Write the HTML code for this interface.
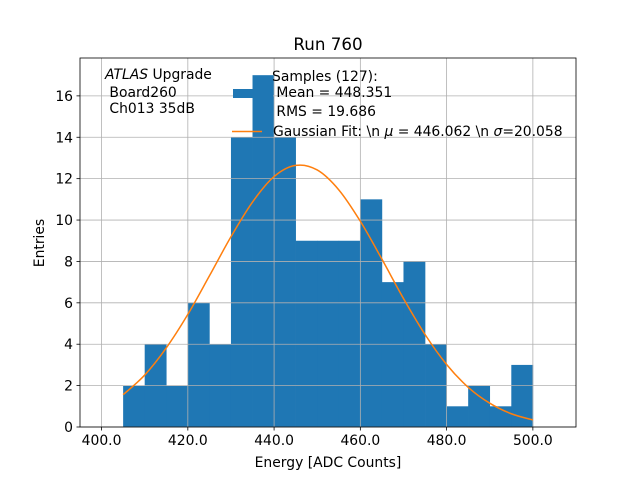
<!DOCTYPE html>
<html><head><meta charset="utf-8"><style>
body{margin:0;background:#fff}
svg text{font-family:"DejaVu Sans","Liberation Sans",sans-serif;fill:#000}
</style></head><body>
<svg id="chart" width="640" height="480" xmlns="http://www.w3.org/2000/svg">
<rect width="640" height="480" fill="#fff"/>
<g id="bars"></g><g id="grid"></g><g id="fit"></g><g id="axes"></g>
<text x="328" y="50" font-size="16.7" text-anchor="middle">Run 760</text>
<text x="328" y="467" font-size="13.9" text-anchor="middle">Energy [ADC Counts]</text>
<text transform="translate(44,243) rotate(-90)" font-size="13.9" text-anchor="middle">Entries</text>
<g font-size="13.9">
<text x="105" y="79"><tspan font-style="italic">ATLAS</tspan> Upgrade</text>
<text x="105" y="97" xml:space="preserve"> Board260</text>
<text x="105" y="113" xml:space="preserve"> Ch013 35dB</text>
</g>
<g font-size="13.9">
<rect x="233" y="89" width="40" height="9" fill="#1f77b4"/>
<text x="272" y="81">Samples (127):</text>
<text x="272" y="97" xml:space="preserve"> Mean = 448.351</text>
<text x="272" y="116" xml:space="preserve"> RMS = 19.686</text>
<line x1="232" y1="131.5" x2="262" y2="131.5" stroke="#ff7f0e" stroke-width="1.5"/>
<text x="273" y="136">Gaussian Fit: \n <tspan font-style="italic">μ</tspan> = 446.062 \n <tspan font-style="italic">σ</tspan>=20.058</text>
</g>
</svg>
<script>
const binEdges=[405,410,415,420,425,430,435,440,445,450,455,460,465,470,475,480,485,490,495,500];
const counts=[2,4,2,6,4,14,17,14,9,9,9,11,7,8,4,1,2,1,3];
const fitX=[405,410,415,420,425,430,435,440,445,450,455,460,465,470,475,480,485,490,495,500];
const fitY=[1.56,2.51,3.82,5.44,7.30,9.19,10.87,12.10,12.64,12.42,11.46,9.94,8.11,6.21,4.47,3.02,1.92,1.15,0.64,0.34];
const xTicks=[400,420,440,460,480,500];
const yTicks=[0,2,4,6,8,10,12,14,16];
const L=80,R=576,T=58,B=427,X0=395,X1=510,Y0=0,Y1=17.83;
const sx=v=>L+(v-X0)/(X1-X0)*(R-L);
const sy=v=>B-(v-Y0)/(Y1-Y0)*(B-T);
const NS="http://www.w3.org/2000/svg";
function mk(t,a,p){const e=document.createElementNS(NS,t);for(const k in a)e.setAttribute(k,a[k]);p.appendChild(e);return e;}
const bars=document.getElementById('bars');
counts.forEach((c,i)=>{
 const x0=sx(binEdges[i]),x1=sx(binEdges[i+1]);
 const r=mk('rect',{x:x0,y:sy(c),width:x1-x0+0.3,height:sy(0)-sy(c),fill:'#1f77b4'},bars);
 
 
});
const grid=document.getElementById('grid');
xTicks.forEach(v=>{const l=mk('line',{x1:sx(v),x2:sx(v),y1:T,y2:B,stroke:'#b0b0b0','stroke-width':0.8},grid);
 });
yTicks.forEach(v=>{const l=mk('line',{x1:L,x2:R,y1:sy(v),y2:sy(v),stroke:'#b0b0b0','stroke-width':0.8},grid);
 });
const fit=document.getElementById('fit');
const P=fitX.map((x,i)=>[sx(x),sy(fitY[i])]);
let d='M'+P[0][0]+','+P[0][1];
for(let i=0;i<P.length-1;i++){
 const p0=P[Math.max(i-1,0)],p1=P[i],p2=P[i+1],p3=P[Math.min(i+2,P.length-1)];
 const c1=[p1[0]+(p2[0]-p0[0])/6,p1[1]+(p2[1]-p0[1])/6];
 const c2=[p2[0]-(p3[0]-p1[0])/6,p2[1]-(p3[1]-p1[1])/6];
 d+=' C'+c1+' '+c2+' '+p2;
}
const pl=mk('path',{d:d,fill:'none',stroke:'#ff7f0e','stroke-width':1.5},fit);


const axes=document.getElementById('axes');
const fr=mk('rect',{x:L,y:T,width:R-L,height:B-T,fill:'none',stroke:'#000','stroke-width':0.8},axes);


xTicks.forEach(v=>{mk('line',{x1:sx(v),x2:sx(v),y1:B,y2:B+3.5,stroke:'#000','stroke-width':0.8},axes);
 const t=mk('text',{x:sx(v),y:B+18,'font-size':13.9,'text-anchor':'middle'},axes);t.textContent=v.toFixed(1);
 });
yTicks.forEach(v=>{mk('line',{x1:L-3.5,x2:L,y1:sy(v),y2:sy(v),stroke:'#000','stroke-width':0.8},axes);
 const t=mk('text',{x:L-7,y:sy(v)+5,'font-size':13.9,'text-anchor':'end'},axes);t.textContent=v;
 });
</script>
</body></html>
